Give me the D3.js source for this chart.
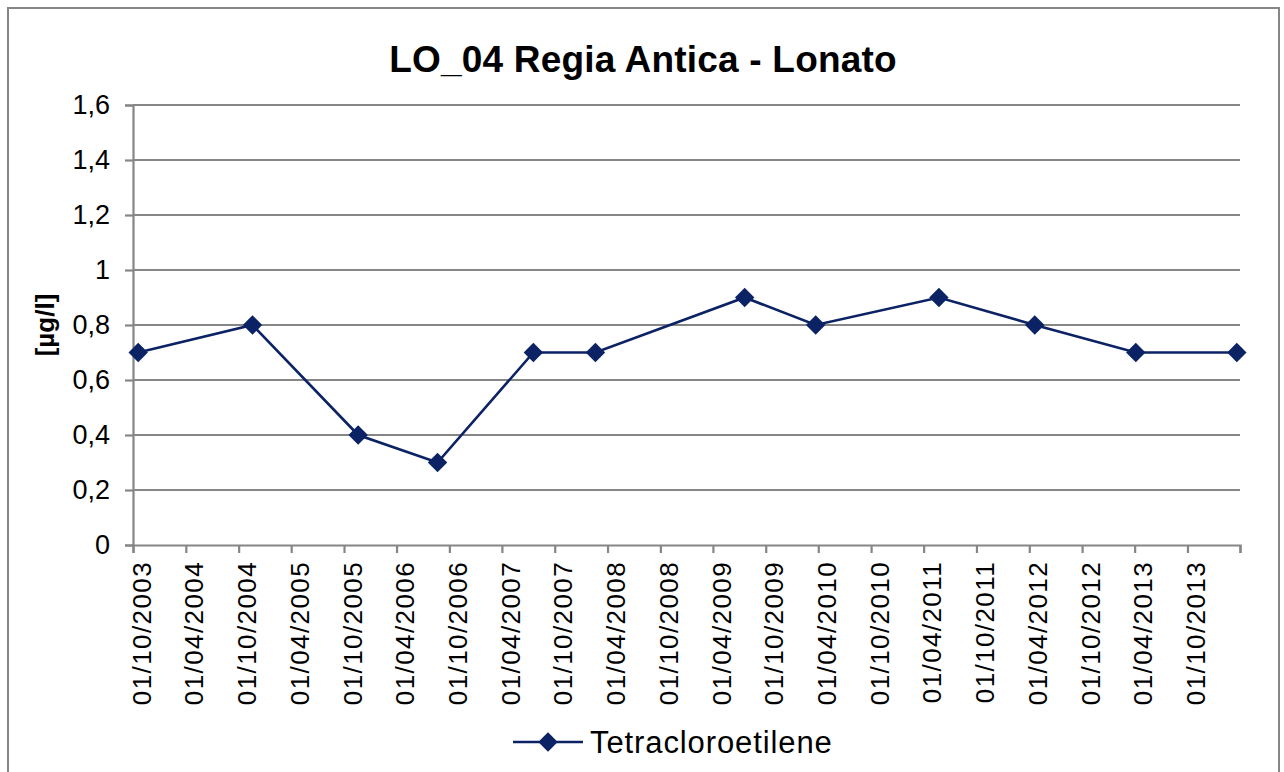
<!DOCTYPE html>
<html>
<head>
<meta charset="utf-8">
<script src="https://cdn.jsdelivr.net/npm/d3@7"></script>
<style>
    html, body { margin: 0; padding: 0; background: #fff; }
    svg { display: block; font-family: "Liberation Sans", Arial, sans-serif; }
</style>
</head>
<body>
<svg id="chart" width="1284" height="772"></svg>
<script>
// Values
const sampleDates = [
    "2003-10-19", "2004-11-18", "2005-11-19", "2006-08-21",
    "2007-07-19", "2008-02-19", "2009-07-20", "2010-03-23",
    "2011-05-24", "2012-04-20", "2013-04-05", "2014-03-21"
];
const pceValues = [0.7, 0.8, 0.4, 0.3, 0.7, 0.7, 0.9, 0.8, 0.9, 0.8, 0.7, 0.7];
const yTicks = [0, 0.2, 0.4, 0.6, 0.8, 1, 1.2, 1.4, 1.6];
const axisStart = "2003-10-01";
const axisEnd = "2014-04-01";
const seriesName = "Tetracloroetilene";
const chartTitle = "LO_04 Regia Antica - Lonato";
const yTitle = "[\u00b5g/l]";

(function () {
    const svg = d3.select("#chart");
    const parseDate = d3.timeParse("%Y-%m-%d");
    const fmtDate = d3.timeFormat("%d/%m/%Y");
    const fmtNum = v => String(v).replace(".", ",");

    const gridColor = "#868686";
    const lineColor = "#0b2265";

    const plot = { left: 133, right: 1240, top: 105, bottom: 545 };

    const data = sampleDates.map((d, i) => ({ date: parseDate(d), value: pceValues[i] }));

    const x = d3.scaleTime()
        .domain([parseDate(axisStart), parseDate(axisEnd)])
        .range([plot.left, plot.right]);

    const y = d3.scaleLinear()
        .domain([0, 1.6])
        .range([plot.bottom, plot.top]);

    // outer frame
    svg.append("rect")
        .attr("x", 8).attr("y", 8)
        .attr("width", 1271).attr("height", 772)
        .attr("fill", "none")
        .attr("stroke", gridColor)
        .attr("stroke-width", 2);

    // title
    svg.append("text")
        .attr("x", 643)
        .attr("y", 72)
        .attr("text-anchor", "middle")
        .attr("font-size", "37px")
        .attr("font-weight", "bold")
        .attr("letter-spacing", "0.2px")
        .text(chartTitle);

    // horizontal gridlines
    svg.append("g")
        .selectAll("line")
        .data(yTicks.filter(t => t > 0))
        .join("line")
        .attr("x1", plot.left)
        .attr("x2", plot.right)
        .attr("y1", d => y(d))
        .attr("y2", d => y(d))
        .attr("stroke", gridColor)
        .attr("stroke-width", 2.2);

    // y axis
    const yAxis = svg.append("g")
        .attr("transform", `translate(${plot.left},0)`)
        .call(d3.axisLeft(y).tickValues(yTicks).tickFormat(fmtNum).tickSize(8).tickPadding(15));
    yAxis.select(".domain").attr("stroke", gridColor).attr("stroke-width", 2.2);
    yAxis.selectAll(".tick line").attr("stroke", gridColor).attr("stroke-width", 2.2);
    yAxis.selectAll("text")
        .attr("font-size", "27px")
        .attr("font-family", "Liberation Sans, Arial, sans-serif")
        .attr("fill", "#000");

    // x axis (6-month ticks)
    const xTicks = d3.timeMonth.range(parseDate(axisStart), d3.timeDay.offset(parseDate(axisEnd), 1), 6);
    const xAxis = svg.append("g")
        .attr("transform", `translate(0,${plot.bottom})`)
        .call(d3.axisBottom(x).tickValues(xTicks).tickSize(8)
            .tickFormat((d, i) => i === xTicks.length - 1 ? "" : fmtDate(d)));
    xAxis.select(".domain").attr("stroke", gridColor).attr("stroke-width", 2.2);
    xAxis.selectAll(".tick line").attr("stroke", gridColor).attr("stroke-width", 2.2);
    xAxis.selectAll("text")
        .attr("font-size", "26px")
        .attr("font-family", "Liberation Sans, Arial, sans-serif")
        .attr("letter-spacing", "1.4px")
        .attr("fill", "#000")
        .attr("text-anchor", "end")
        .attr("transform", "rotate(-90)")
        .attr("x", -16)
        .attr("y", 8)
        .attr("dy", "0.35em");

    // y axis title
    svg.append("text")
        .attr("transform", "translate(54,325) rotate(-90)")
        .attr("text-anchor", "middle")
        .attr("font-size", "26px")
        .attr("font-weight", "bold")
        .text(yTitle);

    // series line
    const line = d3.line()
        .x(d => x(d.date))
        .y(d => y(d.value));

    svg.append("path")
        .datum(data)
        .attr("d", line)
        .attr("fill", "none")
        .attr("stroke", lineColor)
        .attr("stroke-width", 2.6);

    const diamond = d3.symbol().type(d3.symbolDiamond2).size(240);

    svg.append("g")
        .selectAll("path")
        .data(data)
        .join("path")
        .attr("d", diamond)
        .attr("transform", d => `translate(${x(d.date)},${y(d.value)})`)
        .attr("fill", lineColor);

    // legend
    const legend = svg.append("g").attr("transform", "translate(513,742)");
    legend.append("line")
        .attr("x1", 0).attr("x2", 70)
        .attr("stroke", lineColor)
        .attr("stroke-width", 2.6);
    legend.append("path")
        .attr("d", diamond)
        .attr("transform", "translate(35,0)")
        .attr("fill", lineColor);
    legend.append("text")
        .attr("x", 77)
        .attr("dy", "0.36em")
        .attr("font-size", "31px")
        .attr("letter-spacing", "0.9px")
        .text(seriesName);
})();
</script>
</body>
</html>
